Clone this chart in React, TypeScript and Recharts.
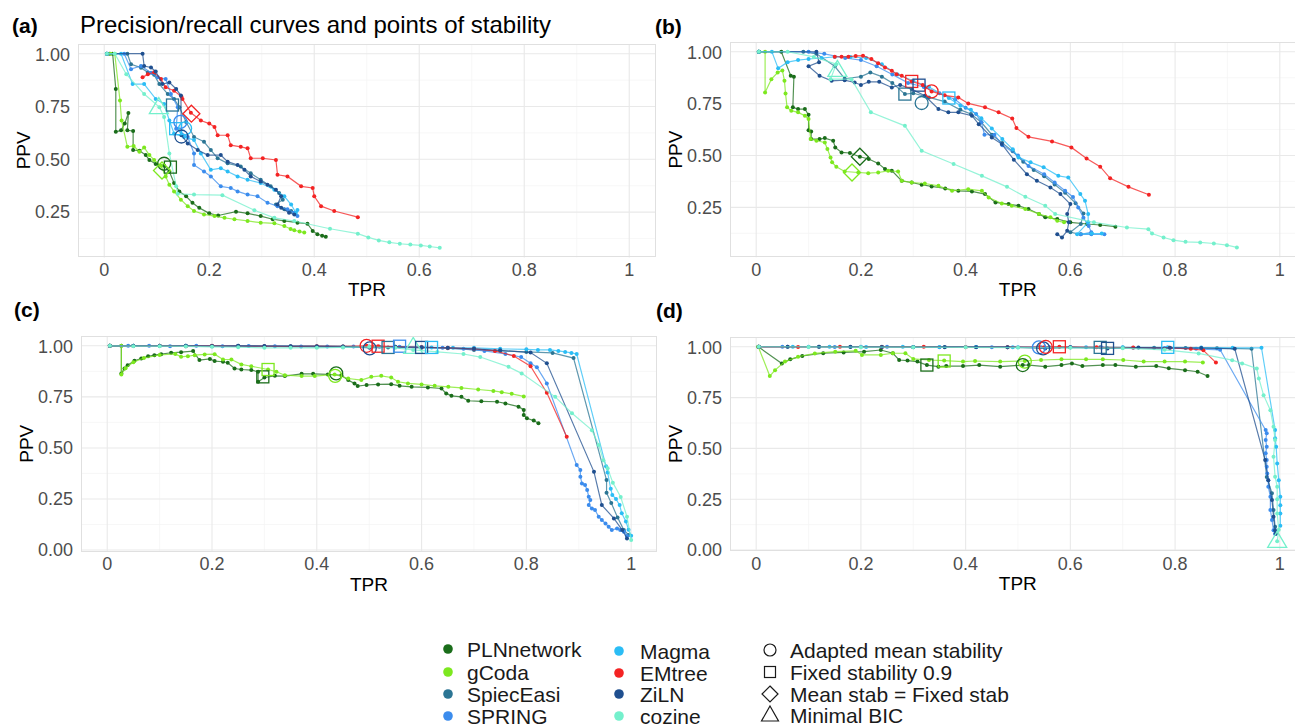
import React from "react"
import { ScatterChart, Scatter, XAxis, YAxis, CartesianGrid } from "recharts"

type Pt = [number, number]
type Mark = [string, string, number, number]

const METHODS = ["PLNnetwork", "gCoda", "SpiecEasi", "SPRING", "Magma", "EMtree", "ZiLN", "cozine"]
const COLORS: Record<string, string> = {
  PLNnetwork: "#1a6d1a",
  gCoda: "#7de81f",
  SpiecEasi: "#2b7594",
  SPRING: "#3b8ced",
  Magma: "#2bbdf5",
  EMtree: "#f42323",
  ZiLN: "#1f4f8f",
  cozine: "#74f0cc",
}
const SHAPES = ["circle", "square", "diamond", "triangle"]
const SHAPE_LABELS = ["Adapted mean stability", "Fixed stability 0.9", "Mean stab = Fixed stab", "Minimal BIC"]

const X_TICKS = [0, 0.2, 0.4, 0.6, 0.8, 1]
const X_MINOR = [0.1, 0.3, 0.5, 0.7, 0.9]
const Y_TICKS_TOP = [0.25, 0.5, 0.75, 1]
const Y_TICKS_BOTTOM = [0, 0.25, 0.5, 0.75, 1]
const Y_MINOR = [0.125, 0.375, 0.625, 0.875]

// ---- panel (a)
const aPLN: Pt[] = [[0.01, 1], [0.016, 1], [0.022, 0.833], [0.022, 0.63], [0.032, 0.637], [0.039, 0.669], [0.046, 0.719], [0.044, 0.637], [0.055, 0.634], [0.055, 0.544], [0.067, 0.541], [0.079, 0.52], [0.086, 0.497], [0.098, 0.478], [0.114, 0.469], [0.124, 0.442], [0.133, 0.388], [0.143, 0.348], [0.156, 0.325], [0.168, 0.294], [0.181, 0.27], [0.2, 0.244], [0.217, 0.234], [0.251, 0.252], [0.273, 0.244], [0.298, 0.231], [0.321, 0.216], [0.343, 0.208], [0.368, 0.2], [0.387, 0.195], [0.397, 0.161], [0.406, 0.145], [0.415, 0.138], [0.422, 0.133]]
const aGCoda: Pt[] = [[0.012, 1], [0.02, 1], [0.03, 0.778], [0.033, 0.684], [0.044, 0.559], [0.056, 0.563], [0.067, 0.536], [0.076, 0.556], [0.086, 0.52], [0.095, 0.497], [0.108, 0.469], [0.117, 0.419], [0.124, 0.38], [0.133, 0.348], [0.146, 0.309], [0.159, 0.278], [0.171, 0.255], [0.19, 0.239], [0.21, 0.231], [0.229, 0.223], [0.248, 0.216], [0.273, 0.208], [0.298, 0.2], [0.324, 0.197], [0.343, 0.184], [0.355, 0.17], [0.362, 0.164], [0.372, 0.158], [0.381, 0.153]]
const aSpiec: Pt[] = [[0.005, 1], [0.044, 1], [0.051, 0.95], [0.07, 0.934], [0.083, 0.911], [0.095, 0.9], [0.105, 0.856], [0.121, 0.809], [0.133, 0.786], [0.143, 0.747], [0.156, 0.677], [0.171, 0.606], [0.19, 0.583], [0.203, 0.544], [0.216, 0.505], [0.235, 0.481], [0.26, 0.466], [0.279, 0.434], [0.298, 0.403], [0.317, 0.372], [0.333, 0.341], [0.34, 0.309], [0.327, 0.286], [0.343, 0.263], [0.356, 0.255]]
const aSpring: Pt[] = [[0.005, 1], [0.038, 1], [0.051, 0.927], [0.07, 0.942], [0.089, 0.91], [0.102, 0.888], [0.117, 0.88], [0.127, 0.809], [0.14, 0.747], [0.137, 0.645], [0.159, 0.606], [0.171, 0.528], [0.171, 0.473], [0.19, 0.442], [0.203, 0.419], [0.222, 0.372], [0.241, 0.364], [0.254, 0.348], [0.273, 0.333], [0.292, 0.325], [0.311, 0.294], [0.33, 0.278], [0.349, 0.263], [0.362, 0.247], [0.368, 0.231]]
const aMagma: Pt[] = [[0.005, 1], [0.032, 1], [0.054, 0.856], [0.076, 0.856], [0.098, 0.786], [0.114, 0.762], [0.124, 0.684], [0.133, 0.622], [0.152, 0.606], [0.171, 0.591], [0.184, 0.528], [0.203, 0.45], [0.222, 0.458], [0.235, 0.442], [0.254, 0.419], [0.273, 0.403], [0.298, 0.388], [0.324, 0.356], [0.343, 0.325], [0.356, 0.286], [0.365, 0.247], [0.368, 0.26]]
const aEMtree: Pt[] = [[0.073, 0.888], [0.083, 0.903], [0.095, 0.912], [0.108, 0.88], [0.117, 0.841], [0.133, 0.825], [0.147, 0.797], [0.149, 0.786], [0.165, 0.72], [0.184, 0.684], [0.2, 0.669], [0.21, 0.653], [0.216, 0.614], [0.235, 0.614], [0.241, 0.567], [0.26, 0.559], [0.273, 0.552], [0.279, 0.505], [0.302, 0.505], [0.327, 0.497], [0.33, 0.427], [0.349, 0.419], [0.375, 0.372], [0.397, 0.364], [0.4, 0.325], [0.413, 0.278], [0.438, 0.255], [0.483, 0.226]]
const aZiLN: Pt[] = [[0.005, 1], [0.073, 1], [0.076, 0.942], [0.089, 0.935], [0.098, 0.916], [0.111, 0.856], [0.124, 0.864], [0.137, 0.833], [0.146, 0.802], [0.147, 0.614], [0.159, 0.575], [0.178, 0.544], [0.197, 0.52], [0.222, 0.52], [0.235, 0.489], [0.254, 0.473], [0.267, 0.45], [0.279, 0.419], [0.298, 0.395], [0.311, 0.38], [0.327, 0.356], [0.337, 0.325], [0.33, 0.286], [0.337, 0.27], [0.352, 0.247], [0.362, 0.239]]
const aCozine: Pt[] = [[0.005, 1], [0.02, 1], [0.042, 0.903], [0.076, 0.809], [0.105, 0.747], [0.114, 0.7], [0.124, 0.528], [0.137, 0.372], [0.14, 0.337], [0.171, 0.333], [0.225, 0.33], [0.286, 0.259], [0.324, 0.223], [0.362, 0.208], [0.43, 0.171], [0.483, 0.148], [0.503, 0.13], [0.523, 0.116], [0.543, 0.107], [0.563, 0.1], [0.583, 0.096], [0.603, 0.092], [0.62, 0.087], [0.639, 0.081]]
const aMarks: Mark[] = [
  ["PLNnetwork", "circle", 0.114, 0.479], ["PLNnetwork", "square", 0.126, 0.463], ["gCoda", "diamond", 0.11, 0.447],
  ["cozine", "triangle", 0.104, 0.745], ["SpiecEasi", "square", 0.13, 0.757], ["EMtree", "diamond", 0.166, 0.716],
  ["Magma", "square", 0.136, 0.645], ["SPRING", "circle", 0.145, 0.677], ["Magma", "circle", 0.154, 0.646], ["ZiLN", "circle", 0.147, 0.608],
]

// ---- panel (b)
const bPLN: Pt[] = [[0.005, 1], [0.048, 1], [0.066, 0.884], [0.072, 0.88], [0.07, 0.732], [0.08, 0.724], [0.093, 0.724], [0.1, 0.696], [0.1, 0.622], [0.105, 0.616], [0.105, 0.579], [0.121, 0.579], [0.131, 0.584], [0.147, 0.571], [0.151, 0.539], [0.163, 0.515], [0.179, 0.512], [0.198, 0.494], [0.215, 0.483], [0.233, 0.462], [0.246, 0.435], [0.259, 0.427], [0.278, 0.378], [0.297, 0.37], [0.316, 0.359], [0.335, 0.351], [0.361, 0.341], [0.386, 0.33], [0.412, 0.327], [0.437, 0.314], [0.457, 0.274], [0.482, 0.266], [0.501, 0.258], [0.52, 0.242], [0.54, 0.218], [0.552, 0.202], [0.575, 0.194], [0.6, 0.178], [0.632, 0.17], [0.657, 0.165], [0.686, 0.157]]
const bGCoda: Pt[] = [[0.005, 1], [0.017, 1], [0.017, 0.804], [0.029, 0.868], [0.041, 0.9], [0.05, 0.91], [0.054, 0.86], [0.056, 0.799], [0.059, 0.732], [0.067, 0.716], [0.08, 0.708], [0.093, 0.692], [0.1, 0.676], [0.104, 0.579], [0.115, 0.571], [0.131, 0.563], [0.136, 0.531], [0.142, 0.491], [0.145, 0.467], [0.153, 0.446], [0.169, 0.423], [0.195, 0.418], [0.214, 0.415], [0.233, 0.418], [0.252, 0.426], [0.271, 0.423], [0.278, 0.378], [0.297, 0.37], [0.322, 0.365], [0.348, 0.354], [0.374, 0.33], [0.405, 0.338], [0.431, 0.33], [0.444, 0.298], [0.469, 0.269], [0.488, 0.258], [0.514, 0.242], [0.54, 0.218], [0.562, 0.202], [0.575, 0.185], [0.588, 0.178]]
const bSpiec: Pt[] = [[0.005, 1], [0.09, 1], [0.115, 0.99], [0.15, 0.93], [0.169, 0.87], [0.2, 0.88], [0.218, 0.9], [0.24, 0.88], [0.26, 0.85], [0.284, 0.796], [0.3, 0.8], [0.33, 0.78], [0.36, 0.76], [0.39, 0.72], [0.41, 0.7], [0.43, 0.66], [0.45, 0.6], [0.47, 0.56], [0.49, 0.52], [0.51, 0.47], [0.53, 0.43], [0.55, 0.4], [0.57, 0.36], [0.59, 0.32], [0.61, 0.27], [0.625, 0.22], [0.62, 0.17], [0.6, 0.13], [0.62, 0.12]]
const bSpring: Pt[] = [[0.005, 1], [0.1, 1], [0.13, 0.99], [0.17, 0.97], [0.2, 0.96], [0.23, 0.93], [0.26, 0.89], [0.29, 0.85], [0.32, 0.83], [0.35, 0.8], [0.38, 0.77], [0.4, 0.73], [0.42, 0.7], [0.43, 0.66], [0.436, 0.6], [0.455, 0.6], [0.47, 0.55], [0.5, 0.5], [0.52, 0.45], [0.55, 0.41], [0.57, 0.37], [0.59, 0.33], [0.605, 0.3], [0.615, 0.25], [0.625, 0.2], [0.635, 0.16], [0.64, 0.13], [0.62, 0.12], [0.64, 0.12], [0.665, 0.12]]
const bMagma: Pt[] = [[0.005, 1], [0.03, 1], [0.042, 0.92], [0.06, 0.95], [0.08, 0.96], [0.1, 0.965], [0.125, 0.97], [0.15, 0.975], [0.18, 0.975], [0.21, 0.97], [0.24, 0.94], [0.27, 0.89], [0.3, 0.86], [0.33, 0.83], [0.368, 0.777], [0.39, 0.74], [0.41, 0.72], [0.43, 0.68], [0.45, 0.63], [0.47, 0.58], [0.49, 0.53], [0.501, 0.491], [0.524, 0.467], [0.549, 0.443], [0.577, 0.402], [0.596, 0.394], [0.619, 0.314], [0.628, 0.282], [0.634, 0.218], [0.634, 0.178], [0.613, 0.121], [0.641, 0.124], [0.66, 0.124]]
const bEMtree: Pt[] = [[0.15, 0.976], [0.163, 0.976], [0.176, 0.976], [0.19, 0.98], [0.204, 0.981], [0.22, 0.965], [0.233, 0.944], [0.246, 0.924], [0.259, 0.908], [0.268, 0.892], [0.278, 0.884], [0.297, 0.857], [0.318, 0.84], [0.335, 0.809], [0.36, 0.79], [0.386, 0.78], [0.405, 0.751], [0.437, 0.732], [0.463, 0.708], [0.489, 0.678], [0.497, 0.632], [0.52, 0.59], [0.565, 0.568], [0.602, 0.539], [0.631, 0.486], [0.657, 0.446], [0.676, 0.39], [0.711, 0.349], [0.75, 0.311]]
const bZiLN: Pt[] = [[0.005, 1], [0.115, 1], [0.12, 0.95], [0.1, 0.93], [0.121, 0.884], [0.144, 0.86], [0.169, 0.863], [0.188, 0.852], [0.2, 0.84], [0.215, 0.855], [0.235, 0.855], [0.259, 0.828], [0.275, 0.84], [0.297, 0.82], [0.322, 0.788], [0.348, 0.724], [0.367, 0.708], [0.386, 0.708], [0.412, 0.692], [0.425, 0.651], [0.45, 0.587], [0.469, 0.555], [0.492, 0.48], [0.517, 0.41], [0.536, 0.378], [0.562, 0.346], [0.581, 0.314], [0.6, 0.266], [0.594, 0.218], [0.597, 0.178], [0.594, 0.137], [0.584, 0.105], [0.575, 0.121]]
const bCozine: Pt[] = [[0.005, 1], [0.06, 1], [0.11, 0.975], [0.153, 0.94], [0.142, 0.868], [0.182, 0.868], [0.219, 0.708], [0.284, 0.643], [0.316, 0.523], [0.377, 0.459], [0.431, 0.402], [0.479, 0.349], [0.514, 0.301], [0.552, 0.258], [0.571, 0.218], [0.645, 0.178], [0.708, 0.153], [0.749, 0.145], [0.756, 0.124], [0.778, 0.105], [0.797, 0.092], [0.82, 0.084], [0.848, 0.081], [0.874, 0.076], [0.899, 0.068], [0.918, 0.057]]
const bMarks: Mark[] = [
  ["PLNnetwork", "diamond", 0.198, 0.494], ["gCoda", "diamond", 0.183, 0.418], ["cozine", "triangle", 0.155, 0.91],
  ["EMtree", "square", 0.297, 0.857], ["ZiLN", "square", 0.311, 0.839], ["SpiecEasi", "square", 0.284, 0.796],
  ["EMtree", "circle", 0.335, 0.809], ["SpiecEasi", "circle", 0.316, 0.753], ["Magma", "square", 0.368, 0.777],
]

// ---- panel (c)
const cPLN: Pt[] = [[0.005, 1], [0.027, 1], [0.027, 0.865], [0.033, 0.889], [0.039, 0.905], [0.052, 0.927], [0.065, 0.938], [0.078, 0.949], [0.09, 0.954], [0.103, 0.959], [0.122, 0.966], [0.141, 0.969], [0.164, 0.974], [0.176, 0.93], [0.196, 0.936], [0.205, 0.925], [0.221, 0.922], [0.23, 0.917], [0.243, 0.889], [0.256, 0.884], [0.275, 0.881], [0.288, 0.873], [0.288, 0.824], [0.3, 0.845], [0.32, 0.853], [0.339, 0.852], [0.371, 0.863], [0.393, 0.863], [0.421, 0.86], [0.447, 0.856], [0.46, 0.832], [0.472, 0.816], [0.478, 0.803], [0.495, 0.808], [0.517, 0.811], [0.542, 0.812], [0.558, 0.804], [0.581, 0.799], [0.612, 0.796], [0.638, 0.791], [0.647, 0.767], [0.657, 0.755], [0.676, 0.75], [0.689, 0.731], [0.714, 0.728], [0.744, 0.726], [0.76, 0.718], [0.785, 0.702], [0.795, 0.686], [0.795, 0.661], [0.801, 0.645], [0.814, 0.634], [0.823, 0.621]]
const cGCoda: Pt[] = [[0.005, 1], [0.027, 1], [0.027, 0.86], [0.035, 0.89], [0.05, 0.92], [0.07, 0.94], [0.1, 0.955], [0.13, 0.96], [0.141, 0.946], [0.154, 0.949], [0.167, 0.954], [0.186, 0.958], [0.205, 0.959], [0.221, 0.933], [0.237, 0.933], [0.256, 0.909], [0.275, 0.9], [0.307, 0.884], [0.323, 0.873], [0.339, 0.856], [0.371, 0.852], [0.396, 0.852], [0.434, 0.86], [0.46, 0.84], [0.485, 0.832], [0.504, 0.848], [0.523, 0.853], [0.542, 0.845], [0.555, 0.824], [0.574, 0.816], [0.6, 0.811], [0.625, 0.804], [0.651, 0.799], [0.676, 0.794], [0.708, 0.786], [0.737, 0.779], [0.753, 0.773], [0.772, 0.765], [0.795, 0.752]]
const cSpiec: Pt[] = [[0.005, 1], [0.05, 1], [0.1, 1], [0.15, 1], [0.2, 0.998], [0.25, 0.998], [0.3, 0.997], [0.35, 0.996], [0.4, 0.995], [0.45, 0.995], [0.5, 0.994], [0.536, 0.992], [0.6, 0.99], [0.65, 0.988], [0.7, 0.98], [0.75, 0.975], [0.8, 0.97], [0.85, 0.965], [0.89, 0.94], [0.953, 0.343], [0.953, 0.28], [0.962, 0.23], [0.974, 0.16], [0.986, 0.098], [0.995, 0.074]]
const cSpring: Pt[] = [[0.005, 1], [0.04, 1], [0.08, 1], [0.12, 0.998], [0.17, 1], [0.22, 0.998], [0.27, 0.999], [0.32, 0.998], [0.37, 0.997], [0.42, 0.996], [0.47, 0.996], [0.52, 0.995], [0.558, 0.995], [0.6, 0.993], [0.64, 0.99], [0.68, 0.985], [0.72, 0.975], [0.76, 0.96], [0.79, 0.945], [0.808, 0.914], [0.82, 0.895], [0.839, 0.816], [0.896, 0.416], [0.903, 0.392], [0.903, 0.359], [0.906, 0.326], [0.912, 0.318], [0.916, 0.294], [0.919, 0.261], [0.922, 0.245], [0.919, 0.22], [0.925, 0.204], [0.931, 0.196], [0.938, 0.163], [0.944, 0.147], [0.951, 0.13], [0.957, 0.114], [0.963, 0.098], [0.973, 0.106], [0.979, 0.098], [0.986, 0.09], [0.992, 0.069]]
const cMagma: Pt[] = [[0.005, 1], [0.05, 1], [0.1, 0.999], [0.15, 1], [0.2, 0.999], [0.25, 1], [0.3, 0.998], [0.35, 0.998], [0.4, 0.997], [0.45, 0.997], [0.5, 0.996], [0.55, 0.995], [0.619, 0.992], [0.66, 0.99], [0.7, 0.99], [0.75, 0.985], [0.8, 0.983], [0.822, 0.98], [0.845, 0.98], [0.861, 0.975], [0.874, 0.97], [0.886, 0.965], [0.896, 0.96], [0.952, 0.41], [0.955, 0.38], [0.961, 0.3], [0.964, 0.27], [0.971, 0.25], [0.978, 0.22], [0.982, 0.18], [0.99, 0.14], [0.995, 0.1], [1, 0.07]]
const cEMtree: Pt[] = [[0.005, 1], [0.05, 0.999], [0.1, 1], [0.15, 0.998], [0.2, 1], [0.25, 0.999], [0.3, 0.998], [0.35, 0.997], [0.4, 0.998], [0.45, 0.997], [0.495, 1], [0.517, 0.998], [0.6, 0.993], [0.65, 0.99], [0.7, 0.985], [0.74, 0.975], [0.776, 0.95], [0.808, 0.9], [0.839, 0.77], [0.877, 0.555]]
const cZiLN: Pt[] = [[0.005, 1], [0.05, 1], [0.1, 1], [0.15, 1], [0.2, 0.999], [0.25, 1], [0.3, 0.999], [0.35, 0.998], [0.4, 0.998], [0.45, 0.997], [0.501, 0.99], [0.55, 0.995], [0.6, 0.993], [0.65, 0.99], [0.7, 0.985], [0.75, 0.978], [0.808, 0.967], [0.839, 0.914], [0.929, 0.383], [0.944, 0.22], [0.967, 0.155], [0.983, 0.098], [0.992, 0.057]]
const cCozine: Pt[] = [[0.005, 1], [0.05, 0.998], [0.1, 0.998], [0.15, 0.997], [0.2, 0.995], [0.25, 0.993], [0.3, 0.99], [0.35, 0.99], [0.4, 0.99], [0.45, 0.992], [0.5, 0.995], [0.55, 0.99], [0.584, 0.98], [0.63, 0.97], [0.68, 0.96], [0.712, 0.945], [0.766, 0.897], [0.791, 0.865], [0.855, 0.75], [0.887, 0.67], [0.925, 0.587], [0.938, 0.514], [0.947, 0.44], [0.955, 0.4], [0.965, 0.33], [0.98, 0.26], [0.992, 0.163], [1, 0.049]]
const cMarks: Mark[] = [
  ["PLNnetwork", "square", 0.297, 0.848], ["gCoda", "square", 0.307, 0.884], ["PLNnetwork", "circle", 0.437, 0.865], ["gCoda", "circle", 0.435, 0.853],
  ["EMtree", "circle", 0.495, 1.0], ["ZiLN", "circle", 0.501, 0.987], ["EMtree", "square", 0.517, 0.998], ["SpiecEasi", "square", 0.536, 0.992],
  ["SPRING", "square", 0.558, 0.998], ["cozine", "triangle", 0.584, 0.992], ["ZiLN", "square", 0.6, 0.992], ["Magma", "square", 0.619, 0.992],
]

// ---- panel (d)
const dPLN: Pt[] = [[0.004, 1], [0.049, 0.918], [0.065, 0.938], [0.088, 0.955], [0.128, 0.968], [0.167, 0.972], [0.206, 0.976], [0.238, 0.984], [0.261, 0.968], [0.273, 0.935], [0.289, 0.932], [0.308, 0.927], [0.326, 0.91], [0.348, 0.902], [0.363, 0.905], [0.395, 0.905], [0.426, 0.91], [0.466, 0.902], [0.509, 0.91], [0.521, 0.91], [0.552, 0.902], [0.583, 0.91], [0.603, 0.918], [0.623, 0.905], [0.662, 0.91], [0.686, 0.91], [0.725, 0.902], [0.764, 0.905], [0.788, 0.894], [0.819, 0.885], [0.843, 0.877], [0.862, 0.856]]
const dGCoda: Pt[] = [[0.004, 1], [0.026, 0.856], [0.036, 0.885], [0.055, 0.927], [0.08, 0.951], [0.112, 0.967], [0.151, 0.976], [0.19, 0.98], [0.202, 0.96], [0.238, 0.96], [0.261, 0.968], [0.285, 0.968], [0.3, 0.94], [0.33, 0.935], [0.359, 0.932], [0.395, 0.927], [0.418, 0.93], [0.466, 0.927], [0.513, 0.93], [0.544, 0.935], [0.583, 0.938], [0.63, 0.938], [0.662, 0.938], [0.701, 0.935], [0.74, 0.927], [0.78, 0.927], [0.819, 0.927], [0.853, 0.923]]
const dSpiec: Pt[] = [[0.005, 1], [0.06, 1], [0.12, 1], [0.18, 0.999], [0.24, 1], [0.3, 0.999], [0.36, 0.998], [0.42, 0.999], [0.48, 0.998], [0.54, 0.997], [0.6, 0.997], [0.657, 0.997], [0.7, 0.996], [0.76, 0.995], [0.82, 0.994], [0.88, 0.993], [0.946, 0.99], [0.975, 0.36], [0.985, 0.28], [0.988, 0.197], [0.991, 0.115], [0.992, 0.08]]
const dSpring: Pt[] = [[0.005, 1], [0.05, 1], [0.1, 1], [0.15, 0.999], [0.2, 1], [0.25, 1], [0.3, 0.999], [0.35, 0.998], [0.4, 0.999], [0.45, 0.998], [0.5, 0.998], [0.544, 0.997], [0.6, 0.997], [0.66, 0.996], [0.72, 0.995], [0.78, 0.994], [0.84, 0.99], [0.886, 0.985], [0.973, 0.59], [0.975, 0.574], [0.973, 0.541], [0.975, 0.508], [0.973, 0.476], [0.975, 0.443], [0.975, 0.41], [0.976, 0.377], [0.978, 0.344], [0.978, 0.312], [0.982, 0.262], [0.982, 0.197], [0.985, 0.148], [0.988, 0.098], [0.991, 0.079]]
const dMagma: Pt[] = [[0.005, 1], [0.07, 1], [0.14, 1], [0.21, 0.999], [0.28, 1], [0.35, 0.999], [0.42, 0.999], [0.49, 0.998], [0.56, 0.998], [0.63, 0.997], [0.7, 0.997], [0.786, 0.997], [0.85, 0.996], [0.91, 0.995], [0.965, 0.995], [0.991, 0.59], [0.991, 0.55], [0.993, 0.508], [0.995, 0.426], [0.998, 0.344], [1.001, 0.262], [1.001, 0.22], [1.001, 0.18], [1.001, 0.12]]
const dEMtree: Pt[] = [[0.005, 1], [0.08, 0.999], [0.16, 1], [0.24, 0.999], [0.32, 1], [0.4, 0.998], [0.48, 0.998], [0.55, 0.998], [0.579, 1], [0.65, 0.997], [0.72, 0.996], [0.79, 0.995], [0.83, 0.99], [0.854, 0.983], [0.878, 0.922]]
const dZiLN: Pt[] = [[0.005, 1], [0.06, 1], [0.12, 1], [0.18, 1], [0.24, 0.999], [0.3, 0.998], [0.36, 0.999], [0.42, 0.998], [0.48, 0.998], [0.552, 0.992], [0.6, 0.997], [0.671, 0.992], [0.73, 0.996], [0.79, 0.995], [0.85, 0.994], [0.914, 0.99], [0.972, 0.443], [0.978, 0.344], [0.985, 0.246], [0.988, 0.164], [0.991, 0.098], [0.992, 0.08]]
const dCozine: Pt[] = [[0.005, 1], [0.1, 0.999], [0.2, 0.998], [0.3, 0.998], [0.4, 0.997], [0.5, 0.996], [0.6, 0.995], [0.7, 0.993], [0.78, 0.985], [0.845, 0.967], [0.909, 0.934], [0.928, 0.918], [0.956, 0.893], [0.96, 0.844], [0.969, 0.762], [0.982, 0.688], [0.988, 0.606], [0.991, 0.541], [0.988, 0.459], [0.991, 0.361], [0.995, 0.312], [0.995, 0.25], [0.995, 0.18], [0.998, 0.1], [0.995, 0.043]]
const dMarks: Mark[] = [
  ["PLNnetwork", "square", 0.326, 0.91], ["gCoda", "square", 0.359, 0.93], ["gCoda", "circle", 0.513, 0.927], ["PLNnetwork", "circle", 0.509, 0.91],
  ["SPRING", "circle", 0.54, 0.997], ["ZiLN", "circle", 0.548, 0.992], ["EMtree", "circle", 0.553, 0.999], ["EMtree", "square", 0.579, 1.0],
  ["SpiecEasi", "square", 0.657, 0.997], ["ZiLN", "square", 0.671, 0.992], ["Magma", "square", 0.786, 0.997], ["cozine", "triangle", 0.995, 0.043],
]

// series in METHODS order
const PANELS = [
  { id: "a", left: 78.2, top: 43.6, w: 577.5, h: 213.5, yDomain: [0.035, 1.046], yTicks: Y_TICKS_TOP,
    series: [aPLN, aGCoda, aSpiec, aSpring, aMagma, aEMtree, aZiLN, aCozine], marks: aMarks },
  { id: "b", left: 729.8, top: 42, w: 576, h: 215.2, yDomain: [0.01, 1.047], yTicks: Y_TICKS_TOP,
    series: [bPLN, bGCoda, bSpiec, bSpring, bMagma, bEMtree, bZiLN, bCozine], marks: bMarks },
  { id: "c", left: 80.8, top: 335.9, w: 576.4, h: 215.7, yDomain: [-0.008, 1.048], yTicks: Y_TICKS_BOTTOM,
    series: [cPLN, cGCoda, cSpiec, cSpring, cMagma, cEMtree, cZiLN, cCozine], marks: cMarks },
  { id: "d", left: 729.8, top: 336.9, w: 576, h: 214.1, yDomain: [-0.005, 1.048], yTicks: Y_TICKS_BOTTOM,
    series: [dPLN, dGCoda, dSpiec, dSpring, dMagma, dEMtree, dZiLN, dCozine], marks: dMarks },
]

const FONT = "'Liberation Sans', Arial, sans-serif"
const Y_AXIS_W = 60
const X_AXIS_H = 40

function MarkShape({ cx, cy, shape, color }: { cx: number; cy: number; shape: string; color: string }) {
  const common = { fill: "none", stroke: color, strokeWidth: 1.3 }
  if (shape === "circle") return <circle cx={cx} cy={cy} r={6.5} {...common} />
  if (shape === "square") return <rect x={cx - 6} y={cy - 6} width={12} height={12} {...common} />
  if (shape === "diamond")
    return <polygon points={`${cx},${cy - 8.5} ${cx + 8.5},${cy} ${cx},${cy + 8.5} ${cx - 8.5},${cy}`} {...common} />
  return <polygon points={`${cx},${cy - 10} ${cx + 9.5},${cy + 6} ${cx - 9.5},${cy + 6}`} {...common} />
}

const fmtX = (v: number) => (v === 0 ? "0" : v === 1 ? "1" : String(v))
const fmtY = (v: number) => v.toFixed(2)

function Panel({ p }: { p: (typeof PANELS)[number] }) {
  const markRows = p.marks.map(([m, s, x, y]) => ({ x, y, m, s }))
  return (
    <div style={{ position: "absolute", left: p.left - Y_AXIS_W, top: p.top }}>
      <ScatterChart width={p.w + Y_AXIS_W} height={p.h + X_AXIS_H} margin={{ top: 0, right: 0, bottom: 0, left: 0 }}>
        <CartesianGrid horizontalValues={Y_MINOR} verticalValues={X_MINOR} stroke="#f3f3f3" strokeWidth={0.7} />
        <CartesianGrid horizontalValues={p.yTicks} verticalValues={X_TICKS} stroke="#e9e9e9" strokeWidth={1.1} />
        <XAxis
          type="number"
          dataKey="x"
          domain={[-0.05, 1.05]}
          ticks={X_TICKS}
          tickFormatter={fmtX}
          axisLine={false}
          tickLine={false}
          tickSize={4}
          height={X_AXIS_H}
          tick={{ fill: "#4d4d4d", fontSize: 18, fontFamily: FONT }}
          allowDataOverflow
        />
        <YAxis
          type="number"
          dataKey="y"
          domain={p.yDomain}
          ticks={p.yTicks}
          tickFormatter={fmtY}
          axisLine={false}
          tickLine={false}
          width={Y_AXIS_W}
          tick={{ fill: "#4d4d4d", fontSize: 18, fontFamily: FONT }}
          allowDataOverflow
        />
        {METHODS.map((m, i) => {
          const c = COLORS[m]
          return (
            <Scatter
              key={m}
              name={m}
              data={p.series[i].map(([x, y]) => ({ x, y }))}
              fill={c}
              line={{ stroke: c, strokeWidth: 1.2, strokeOpacity: 0.75 }}
              shape={(s: any) => <circle cx={s.cx} cy={s.cy} r={2} fill={c} />}
              isAnimationActive={false}
            />
          )
        })}
        <Scatter
          name="marks"
          data={markRows}
          shape={(s: any) => {
            const d = s.payload ?? s
            return <MarkShape cx={s.cx} cy={s.cy} shape={d.s} color={COLORS[d.m]} />
          }}
          isAnimationActive={false}
        />
      </ScatterChart>
      <div
        style={{
          position: "absolute", left: Y_AXIS_W, top: 0, width: p.w, height: p.h,
          border: "1px solid #e0e0e0", boxSizing: "border-box", pointerEvents: "none",
        }}
      />
    </div>
  )
}

function LegendSymbol({ shape, x, y }: { shape: string; x: number; y: number }) {
  const common = { fill: "none", stroke: "#1a1a1a", strokeWidth: 1.2 }
  if (shape === "circle") return <circle cx={x} cy={y} r={6} {...common} />
  if (shape === "square") return <rect x={x - 5.5} y={y - 5.5} width={11} height={11} {...common} />
  if (shape === "diamond") return <polygon points={`${x},${y - 8} ${x + 8},${y} ${x},${y + 8} ${x - 8},${y}`} {...common} />
  return <polygon points={`${x},${y - 9} ${x + 8.5},${y + 6} ${x - 8.5},${y + 6}`} {...common} />
}

const LEG_COL1 = [657, 680, 702, 724]
const LEG_COL2 = [659, 681, 702, 724]
const LEG_COL3 = [658, 680, 702, 723]
const LEG_FONT = 21

export default function App() {
  return (
    <div
      style={{
        position: "absolute", left: 0, top: 0, width: 1295, height: 728,
        background: "#fff", overflow: "hidden", fontFamily: FONT,
      }}
    >
      {PANELS.map((p) => (
        <Panel key={p.id} p={p} />
      ))}
      <svg width={1295} height={728} style={{ position: "absolute", left: 0, top: 0, pointerEvents: "none" }} fontFamily={FONT}>
        <text x={12} y={33} fontSize={21} fontWeight="bold">(a)</text>
        <text x={80} y={33} fontSize={24}>Precision/recall curves and points of stability</text>
        <text x={655} y={34} fontSize={21} fontWeight="bold">(b)</text>
        <text x={14} y={317} fontSize={21} fontWeight="bold">(c)</text>
        <text x={656} y={318} fontSize={21} fontWeight="bold">(d)</text>
        {PANELS.map((p) => (
          <g key={p.id}>
            <text x={p.left + p.w / 2} y={p.top + p.h + 39} fontSize={19} textAnchor="middle">TPR</text>
            <text
              transform={`translate(${p.left - 48},${p.top + p.h / 2}) rotate(-90)`}
              fontSize={19}
              textAnchor="middle"
            >
              PPV
            </text>
          </g>
        ))}
        {METHODS.slice(0, 4).map((m, i) => (
          <g key={m}>
            <circle cx={448} cy={LEG_COL1[i] - 8} r={4.8} fill={COLORS[m]} />
            <text x={467} y={LEG_COL1[i]} fontSize={LEG_FONT} fill="#1a1a1a">{m}</text>
          </g>
        ))}
        {METHODS.slice(4).map((m, i) => (
          <g key={m}>
            <circle cx={619} cy={LEG_COL2[i] - 8} r={4.8} fill={COLORS[m]} />
            <text x={640} y={LEG_COL2[i]} fontSize={LEG_FONT} fill="#1a1a1a">{m}</text>
          </g>
        ))}
        {SHAPES.map((s, i) => (
          <g key={s}>
            <LegendSymbol shape={s} x={770} y={LEG_COL3[i] - 8} />
            <text x={790} y={LEG_COL3[i]} fontSize={LEG_FONT} fill="#1a1a1a">{SHAPE_LABELS[i]}</text>
          </g>
        ))}
      </svg>
    </div>
  )
}
